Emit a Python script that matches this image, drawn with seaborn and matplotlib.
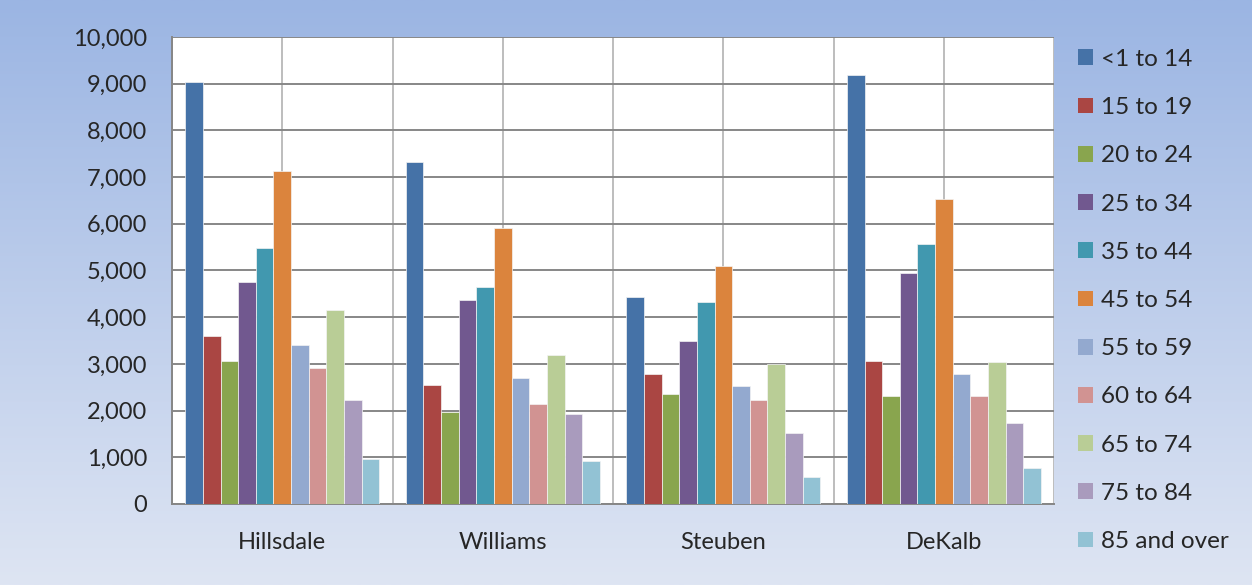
import numpy as np
import pandas as pd
import matplotlib.pyplot as plt
import seaborn as sns
from matplotlib.patches import Patch
from matplotlib.ticker import FuncFormatter, FixedLocator

counties = ['Hillsdale', 'Williams', 'Steuben', 'DeKalb']
age_groups = ['<1 to 14', '15 to 19', '20 to 24', '25 to 34', '35 to 44', '45 to 54',
              '55 to 59', '60 to 64', '65 to 74', '75 to 84', '85 and over']

hillsdale = [9030, 3600, 3060, 4750, 5490, 7130, 3400, 2910, 4160, 2230, 960]
williams = [7330, 2550, 1960, 4370, 4650, 5900, 2700, 2150, 3190, 1920, 920]
steuben = [4430, 2780, 2350, 3500, 4320, 5100, 2520, 2220, 3000, 1520, 580]
dekalb = [9180, 3060, 2320, 4940, 5560, 6520, 2790, 2320, 3040, 1740, 770]

colors = ['#4572A7', '#AA4643', '#89A54E', '#71588F', '#4198AF', '#DB843D',
          '#93A9CF', '#D19392', '#B9CD96', '#A99BBD', '#92C2D4']

rows = []
for county, vals in zip(counties, [hillsdale, williams, steuben, dekalb]):
    for age, v in zip(age_groups, vals):
        rows.append({'County': county, 'Age': age, 'Population': v})
df = pd.DataFrame(rows)

sns.set_style('white')
plt.rcParams['font.family'] = ['Lato', 'DejaVu Sans']

fig = plt.figure(figsize=(12.52, 5.85), dpi=100)

# gradient background
bg = fig.add_axes([0, 0, 1, 1], zorder=-10)
grad = np.linspace(0, 1, 256).reshape(-1, 1)
top = np.array([0x9B, 0xB5, 0xE3]) / 255
bot = np.array([0xDE, 0xE5, 0xF3]) / 255
img = top[None, None, :] * (1 - grad[:, :, None]) + bot[None, None, :] * grad[:, :, None]
bg.imshow(img, aspect='auto', extent=[0, 1, 0, 1])
bg.axis('off')

ax = fig.add_axes([0.1374, 0.1385, 0.7046, 0.7983])
ax.set_facecolor('white')

sns.barplot(data=df, x='County', y='Population', hue='Age', order=counties,
            hue_order=age_groups, palette=colors, saturation=1, width=0.88, gap=0,
            edgecolor='#f4f4f4', linewidth=0.5, ax=ax, legend=False, zorder=3)

ax.set_xlim(-0.5, 3.5)
ax.set_ylim(0, 10000)
ax.set_yticks(np.arange(0, 10001, 1000))
ax.yaxis.set_major_formatter(FuncFormatter(lambda v, p: f'{int(v):,}'))
ax.set_xlabel('')
ax.set_ylabel('')

ax.xaxis.set_minor_locator(FixedLocator([-0.5, 0.5, 1.5, 2.5, 3.5]))
ax.tick_params(axis='x', which='major', length=0, pad=20, labelsize=17)
ax.tick_params(axis='x', which='minor', length=7, width=1.3, color='#868686', direction='out')
ax.tick_params(axis='y', length=7, width=1.3, color='#868686', direction='out', labelsize=17, pad=11)

ax.grid(axis='y', color='#878787', linewidth=1.4, zorder=1)
ax.grid(axis='x', which='both', color='#bdbdbd', linewidth=1.4, zorder=1)
ax.set_axisbelow(True)

for s in ['top', 'right']:
    ax.spines[s].set_visible(False)
for s in ['left', 'bottom']:
    ax.spines[s].set_color('#868686')
    ax.spines[s].set_linewidth(1.4)

handles = [Patch(facecolor=c, edgecolor='none') for c in colors]
fig.legend(handles, age_groups, loc='upper left', bbox_to_anchor=(0.853, 0.933),
           frameon=False, fontsize=17.5, handlelength=0.62, handleheight=0.62,
           handletextpad=0.35, labelspacing=1.12, borderaxespad=0)

fig.savefig('out.png', dpi=100)
